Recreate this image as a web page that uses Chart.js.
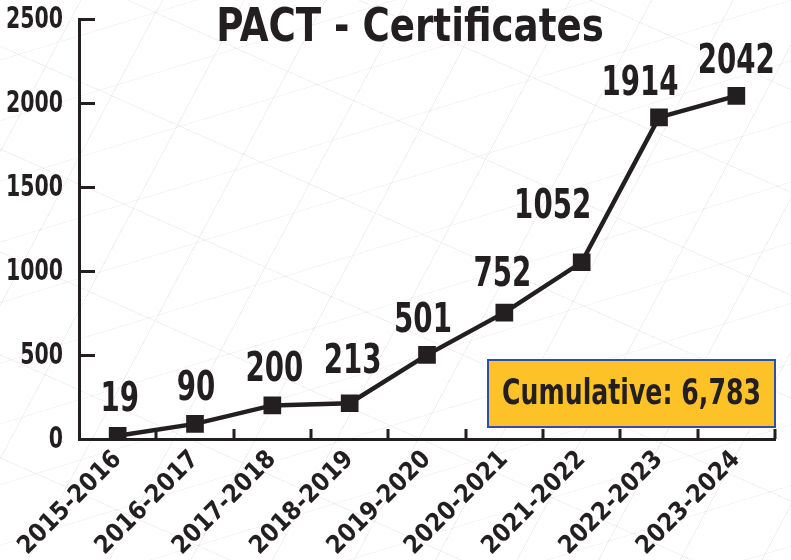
<!DOCTYPE html>
<html lang="en">
<head>
    <meta charset="UTF-8">
    <title>PACT - Certificates</title>
    <style>
        body {
            margin: 0;
            background: #ffffff;
        }

        #chart-container {
            position: relative;
            width: 791px;
            height: 560px;
            /* faint scratchy backdrop like the original artwork */
            background:
                repeating-linear-gradient(118deg, transparent 0 71px, rgba(0, 0, 0, 0.055) 71px 72px),
                repeating-linear-gradient(24deg, transparent 0 93px, rgba(0, 0, 0, 0.05) 93px 94px),
                repeating-linear-gradient(163deg, transparent 0 57px, rgba(0, 0, 0, 0.04) 57px 58px),
                #ffffff;
        }
    </style>
</head>
<body>
    <div id="chart-container">
        <canvas id="chart"></canvas>
    </div>

    <script src="https://cdn.jsdelivr.net/npm/chart.js"></script>
    <script>
        // Data
        const years = ['2015-2016', '2016-2017', '2017-2018', '2018-2019', '2019-2020',
            '2020-2021', '2021-2022', '2022-2023', '2023-2024'];
        const certificates = [19, 90, 200, 213, 501, 752, 1052, 1914, 2042];
        const yTicks = [0, 500, 1000, 1500, 2000, 2500];
        const chartTitle = 'PACT - Certificates';
        const cumulativeText = 'Cumulative: 6,783';

        // where each value label sits relative to its point (hand placed in the original)
        const labelDx = [2, 1, 2, 3, -4, -2, -29, -19, 0];
        const labelDy = [-37, -36, -37, -43, -35, -39, -57, -35, -35];

        const ink = '#231f20';
        const fontFamily = "'DejaVu Sans Condensed', 'Noto Sans', sans-serif";

        // draw text squeezed horizontally, the original uses a narrow face
        function narrowText(ctx, text, x, y, squeeze) {
            ctx.save();
            ctx.translate(x, y);
            ctx.scale(squeeze, 1);
            ctx.fillText(text, 0, 0);
            ctx.restore();
        }

        // Inward tick marks, y labels, title, value labels and the total box
        const decorations = {
            id: 'decorations',
            afterDraw(chart) {
                const ctx = chart.ctx;
                const area = chart.chartArea;
                const xScale = chart.scales.x;
                const yScale = chart.scales.y;
                ctx.save();
                ctx.strokeStyle = ink;
                ctx.fillStyle = ink;
                ctx.lineWidth = 3;

                // y ticks and their labels
                ctx.font = `bold 30px ${fontFamily}`;
                ctx.textAlign = 'right';
                ctx.textBaseline = 'middle';
                yTicks.forEach(v => {
                    const y = Math.round(yScale.getPixelForValue(v)) + 0.5;
                    ctx.beginPath();
                    ctx.moveTo(area.left, y);
                    ctx.lineTo(area.left + 16, y);
                    ctx.stroke();
                    narrowText(ctx, String(v), area.left - 16, y + 1, 0.76);
                });

                // x ticks at category boundaries
                for (let i = 1; i <= years.length; i++) {
                    const x = Math.round(xScale.getPixelForValue(i - 0.5));
                    ctx.beginPath();
                    ctx.moveTo(x, area.bottom);
                    ctx.lineTo(x, area.bottom - 10);
                    ctx.stroke();
                }

                // value labels above the points
                ctx.textAlign = 'center';
                ctx.font = `bold 40px ${fontFamily}`;
                const meta = chart.getDatasetMeta(0);
                meta.data.forEach((pt, i) => {
                    narrowText(ctx, String(certificates[i]), pt.x + labelDx[i], pt.y + labelDy[i] + 2, 0.77);
                });

                // title
                ctx.font = `bold 47px ${fontFamily}`;
                narrowText(ctx, chartTitle, 410, 29, 0.88);

                // cumulative box
                const bx = 488, by = 360, bw = 287, bh = 67;
                ctx.fillStyle = '#fdc228';
                ctx.fillRect(bx, by, bw, bh);
                ctx.strokeStyle = '#2f4f9f';
                ctx.lineWidth = 2;
                ctx.strokeRect(bx, by, bw, bh);
                ctx.fillStyle = ink;
                ctx.font = `bold 35px ${fontFamily}`;
                narrowText(ctx, cumulativeText, bx + bw / 2, by + bh / 2 + 1, 0.8);

                ctx.restore();
            }
        };

        const ctx = document.getElementById('chart').getContext('2d');
        const chart = new Chart(ctx, {
            type: 'line',
            data: {
                labels: years,
                datasets: [{
                    label: 'Certificates',
                    data: certificates,
                    borderColor: ink,
                    backgroundColor: ink,
                    borderWidth: 4.5,
                    pointStyle: 'rect',
                    pointRadius: 12.5,
                    pointHoverRadius: 12.5,
                    pointBackgroundColor: ink,
                    pointBorderWidth: 0,
                    tension: 0
                }]
            },
            options: {
                responsive: true,
                maintainAspectRatio: false,
                animation: false,
                layout: {
                    padding: { top: 19, right: 16, left: 0, bottom: 0 }
                },
                plugins: {
                    legend: { display: false },
                    title: { display: false },
                    tooltip: { enabled: false }
                },
                scales: {
                    x: {
                        offset: true,
                        grid: { display: false, drawTicks: false },
                        border: { display: true, color: ink, width: 3 },
                        ticks: {
                            color: ink,
                            minRotation: 45,
                            maxRotation: 45,
                            padding: 6,
                            font: { family: fontFamily, size: 25, weight: 'bold' }
                        },
                        afterFit(scale) {
                            scale.height = 121;
                            scale.paddingLeft = 0;
                            scale.paddingRight = 0;
                        }
                    },
                    y: {
                        min: 0,
                        max: 2500,
                        grid: { display: false, drawTicks: false },
                        border: { display: true, color: ink, width: 3 },
                        ticks: { display: false, stepSize: 500 },
                        afterFit(scale) {
                            scale.width = 79;
                            scale.paddingTop = 0;
                            scale.paddingBottom = 0;
                        }
                    }
                }
            },
            plugins: [decorations]
        });
    </script>
</body>
</html>
